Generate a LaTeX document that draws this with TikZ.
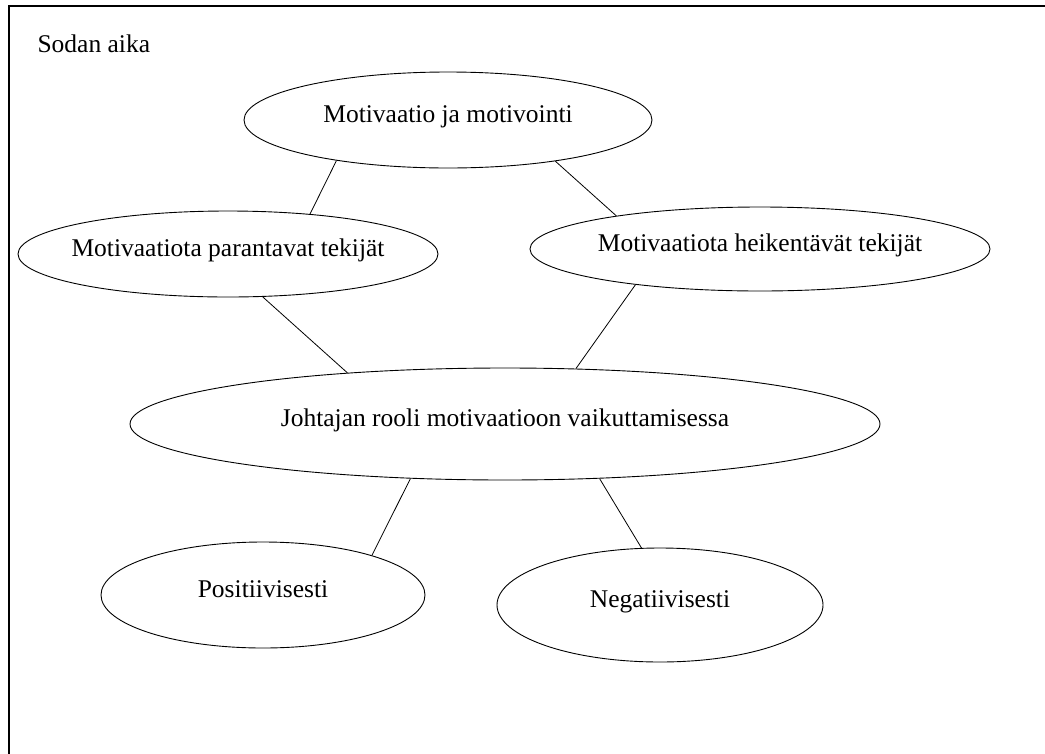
\documentclass[tikz,border=0pt]{standalone}
\usepackage{fontspec}
\setmainfont{Liberation Serif}
\usetikzlibrary{shapes.geometric}

\begin{document}
\begin{tikzpicture}[x=1pt, y=-1pt, font=\fontsize{25.5}{30}\selectfont,
  idea/.style={draw, ellipse, line width=0.9pt, inner xsep=-20pt, inner ysep=0pt,
    text height=18pt, text depth=14pt},
  link/.style={line width=0.8pt}]
\useasboundingbox (0,0) rectangle (1045,753);
\draw[line width=1.6pt] (9,6) rectangle (1070,780);
\node[anchor=base west] (aika) at (34,52) {Sodan aika};
\node[idea, minimum width=408pt, minimum height=96pt] (motivaatio) at (448,120) {Motivaatio ja motivointi};
\node[idea, minimum width=420pt, minimum height=86pt] (parantavat) at (228,254) {Motivaatiota parantavat tekijät};
\node[idea, minimum width=460pt, minimum height=84pt] (heikentavat) at (760,249) {Motivaatiota heikentävät tekijät};
\node[idea, minimum width=750pt, minimum height=112pt] (johtaja) at (505,424) {Johtajan rooli motivaatioon vaikuttamisessa};
\node[idea, minimum width=324pt, minimum height=106pt] (positiivisesti) at (263,595) {Positiivisesti};
\node[idea, minimum width=326pt, minimum height=114pt] (negatiivisesti) at (660,605) {Negatiivisesti};
\draw[link] (motivaatio.200) -- (parantavat.26);
\draw[link] (motivaatio.339) -- (heikentavat.167);
\draw[link] (parantavat.309) -- (johtaja.162);
\draw[link] (heikentavat.196) -- (johtaja.38);
\draw[link] (johtaja.210) -- (positiivisesti.20);
\draw[link] (johtaja.330) -- (negatiivisesti.108);
\end{tikzpicture}
\end{document}
